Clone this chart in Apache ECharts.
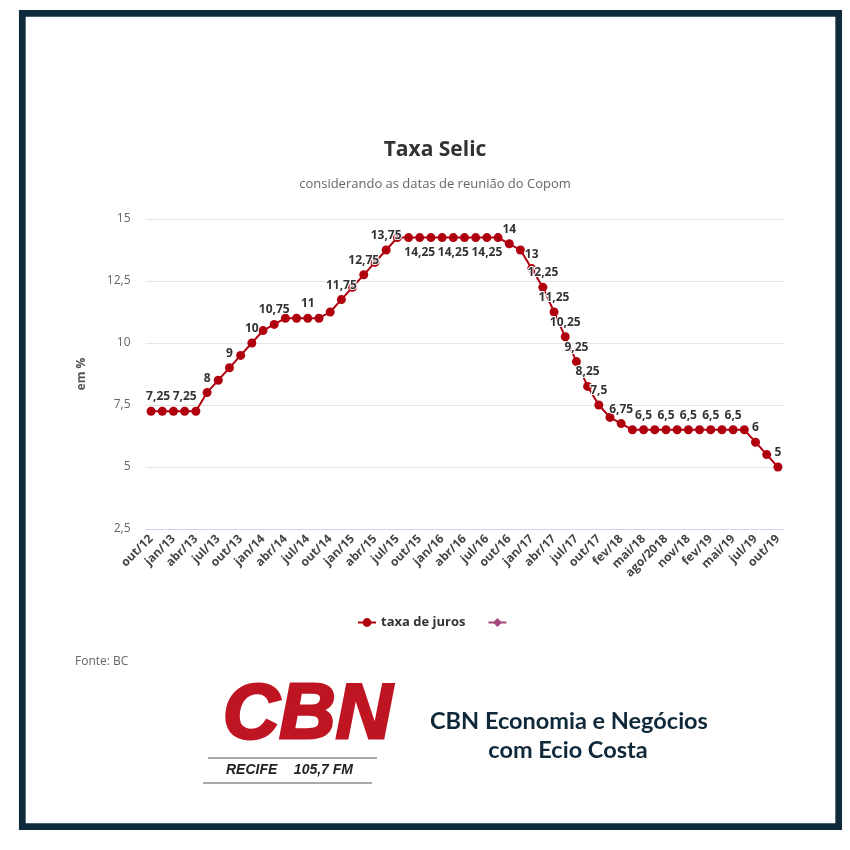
<!DOCTYPE html>
<html lang="pt-BR">
<head>
<meta charset="UTF-8">
<title>Taxa Selic</title>
<style>
  * { margin: 0; padding: 0; box-sizing: border-box; }
  #main { width: 850px; height: 850px; background: #fff; }
</style>
</head>
<body>
<div id="main"></div>
<script src="https://cdn.jsdelivr.net/npm/echarts@6/dist/echarts.min.js"></script>
<script>
// reuniões do Copom, out/2012 a out/2019 (só um rótulo a cada duas aparece no eixo)
const meses = [
  "out/12", "nov/12", "jan/13", "mar/13", "abr/13", "mai/13", "jul/13", "ago/13",
  "out/13", "nov/13", "jan/14", "fev/14", "abr/14", "mai/14", "jul/14", "set/14",
  "out/14", "dez/14", "jan/15", "mar/15", "abr/15", "jun/15", "jul/15", "set/15",
  "out/15", "nov/15", "jan/16", "mar/16", "abr/16", "jun/16", "jul/16", "ago/16",
  "out/16", "nov/16", "jan/17", "fev/17", "abr/17", "mai/17", "jul/17", "set/17",
  "out/17", "dez/17", "fev/18", "mar/18", "mai/18", "jun/18", "ago/2018", "set/18",
  "nov/18", "dez/18", "fev/19", "mar/19", "mai/19", "jun/19", "jul/19", "set/19",
  "out/19"
];
const selic = [
  7.25, 7.25, 7.25, 7.25, 7.25, 8, 8.5, 9,
  9.5, 10, 10.5, 10.75, 11, 11, 11, 11,
  11.25, 11.75, 12.25, 12.75, 13.25, 13.75, 14.25, 14.25,
  14.25, 14.25, 14.25, 14.25, 14.25, 14.25, 14.25, 14.25,
  14, 13.75, 13, 12.25, 11.25, 10.25, 9.25, 8.25,
  7.5, 7, 6.75, 6.5, 6.5, 6.5, 6.5, 6.5,
  6.5, 6.5, 6.5, 6.5, 6.5, 6.5, 6, 5.5,
  5
];
// pontos que mostram o valor (os outros ficam escondidos como no original)
const comRotulo = [0, 3, 5, 7, 9, 11, 14, 17, 19, 21, 24, 27, 30, 32, 34, 35, 36,
  37, 38, 39, 40, 42, 44, 46, 48, 50, 52, 54, 56];
const rotuloAbaixo = [24, 27, 30];

const virgula = (v) => String(v).replace(".", ",");

const pontos = selic.map((v, i) => {
  if (!comRotulo.includes(i)) return v;
  return {
    value: v,
    label: {
      show: true,
      position: rotuloAbaixo.includes(i) ? "bottom" : "top",
      offset: i === 0 ? [7, 0] : [0, 0] // primeiro rótulo empurrado p/ dentro
    }
  };
});

const chart = echarts.init(document.getElementById("main"));
const fonte = "'Open Sans', sans-serif";

chart.setOption({
  animation: false,
  backgroundColor: "#fff",
  textStyle: { fontFamily: fonte },
  grid: { left: 145.5, right: 66.5, top: 219, bottom: 321 },
  legend: {
    left: 352,
    top: 611,
    itemWidth: 18,
    itemHeight: 11,
    itemGap: 22,
    selectedMode: false,
    textStyle: { color: "#333", fontSize: 13, fontWeight: "bold", fontFamily: fonte },
    data: ["taxa de juros", " "]
  },
  xAxis: {
    type: "category",
    data: meses,
    axisLine: { lineStyle: { color: "#ccd6eb" } },
    axisTick: { interval: 1, alignWithLabel: true, length: 8, lineStyle: { color: "#ccd6eb" } },
    axisLabel: {
      interval: 1,
      rotate: 45,
      margin: 8,
      color: "#444",
      fontSize: 12,
      fontWeight: "bold",
      fontFamily: fonte
    }
  },
  yAxis: {
    type: "value",
    min: 2.5,
    max: 15,
    interval: 2.5,
    name: "em %",
    nameLocation: "middle",
    nameRotate: 90,
    nameGap: 58,
    nameTextStyle: { color: "#555", fontSize: 12, fontWeight: "bold", fontFamily: fonte },
    axisLine: { show: false },
    axisTick: { show: false },
    axisLabel: { margin: 15, color: "#666", fontSize: 12, formatter: virgula },
    splitLine: { lineStyle: { color: "#e6e6e6" } }
  },
  series: [
    {
      name: "taxa de juros",
      type: "line",
      data: pontos,
      color: "#b0000e",
      symbol: "circle",
      symbolSize: 9,
      showAllSymbol: true,
      lineStyle: { width: 2 },
      emphasis: { disabled: true },
      label: {
        show: false,
        distance: 4,
        color: "#333",
        fontSize: 12,
        fontWeight: "bold",
        fontFamily: fonte,
        textBorderColor: "#fff",
        textBorderWidth: 2,
        formatter: (p) => virgula(p.value)
      }
    },
    {
      name: " ",
      type: "line",
      data: [],
      color: "#a4457e",
      symbol: "diamond",
      lineStyle: { width: 2 }
    }
  ],
  graphic: [
    {
      type: "rect",
      silent: true,
      shape: { x: 22.3, y: 13.3, width: 816.4, height: 813.4 },
      style: { fill: "none", stroke: "#0f2a3b", lineWidth: 6.7 }
    },
    {
      type: "text", x: 435, y: 150,
      style: { text: "Taxa Selic", fill: "#333", font: "bold 21px " + fonte,
        textAlign: "center", textVerticalAlign: "middle" }
    },
    {
      type: "text", x: 435, y: 184,
      style: { text: "considerando as datas de reunião do Copom", fill: "#666",
        font: "13px " + fonte, textAlign: "center", textVerticalAlign: "middle" }
    },
    {
      type: "text", x: 75, y: 662,
      style: { text: "Fonte: BC", fill: "#666", font: "12px " + fonte,
        textAlign: "left", textVerticalAlign: "middle" }
    },
    // logotipo CBN
    {
      type: "text", x: 223, y: 716,
      style: { text: "CBN", fill: "#bf1522", stroke: "#bf1522", lineWidth: 3,
        font: "italic bold 78px 'Liberation Sans', sans-serif",
        textAlign: "left", textVerticalAlign: "middle" }
    },
    {
      type: "line",
      shape: { x1: 208, y1: 758, x2: 377, y2: 758 },
      style: { stroke: "#555", lineWidth: 1.2 }
    },
    {
      type: "text", x: 226, y: 770,
      style: { text: "RECIFE", fill: "#222",
        font: "italic bold 14px 'Liberation Sans', sans-serif",
        textAlign: "left", textVerticalAlign: "middle" }
    },
    {
      type: "text", x: 353, y: 770,
      style: { text: "105,7 FM", fill: "#222",
        font: "italic bold 14px 'Liberation Sans', sans-serif",
        textAlign: "right", textVerticalAlign: "middle" }
    },
    {
      type: "line",
      shape: { x1: 203, y1: 783, x2: 372, y2: 783 },
      style: { stroke: "#555", lineWidth: 1.2 }
    },
    {
      type: "text", x: 569, y: 721,
      style: { text: "CBN Economia e Negócios", fill: "#10293a",
        font: "bold 23.5px Lato, sans-serif", textAlign: "center", textVerticalAlign: "middle" }
    },
    {
      type: "text", x: 568, y: 750,
      style: { text: "com Ecio Costa", fill: "#10293a",
        font: "bold 23.5px Lato, sans-serif", textAlign: "center", textVerticalAlign: "middle" }
    }
  ]
});
</script>
</body>
</html>
